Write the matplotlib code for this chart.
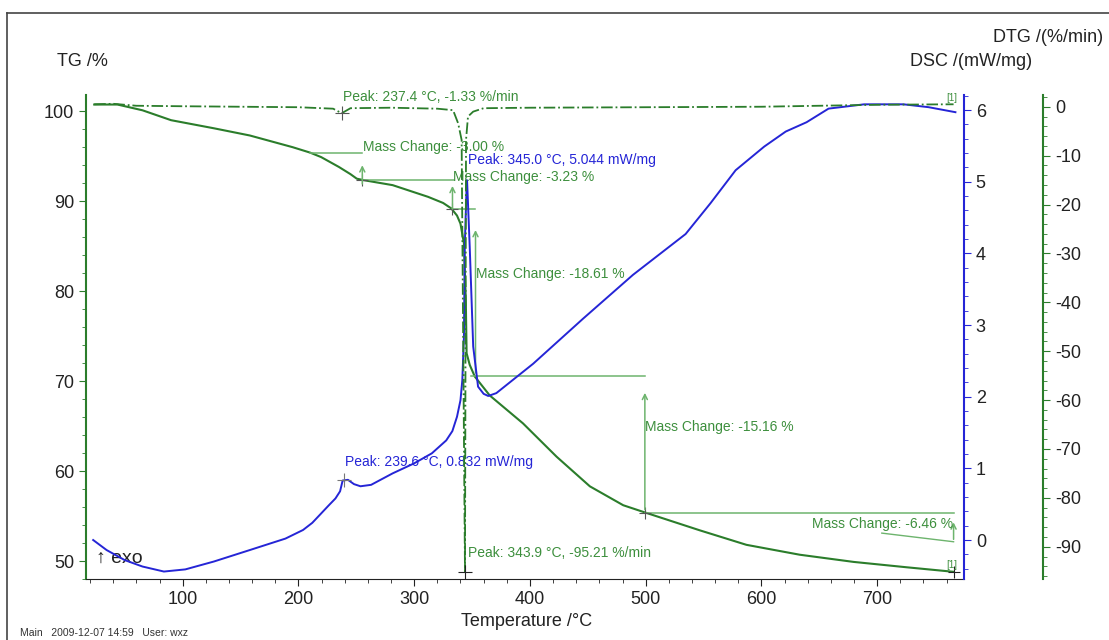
import matplotlib
matplotlib.use("Agg")
from matplotlib import pyplot as plt
from matplotlib.lines import Line2D
from matplotlib.ticker import MultipleLocator

plt.rcParams['font.family'] = ['Liberation Sans', 'DejaVu Sans']
plt.rcParams['axes.unicode_minus'] = False

# TG curve (mass %)
tg_T = [23.6, 43.7, 65.3, 90, 127, 158, 195, 210, 219.6, 235, 245, 250.4, 256.5, 281.4, 312,
        325, 332, 337, 340, 343, 344.6, 345.3, 348, 352.4, 365.3, 394, 423, 451.8, 480.6, 499.3,
        547, 587, 633, 679.6, 725.7, 766]
tg = [100.74, 100.74, 100.1, 99.0, 98.1, 97.3, 96.0, 95.4, 94.9, 93.8, 93.0, 92.5, 92.33, 91.78,
      90.48, 89.8, 89.2, 88.4, 87.5, 85.3, 79.0, 73.1, 71.8, 70.5, 68.4, 65.3, 61.6, 58.3, 56.2,
      55.4, 53.4, 51.8, 50.7, 49.9, 49.3, 48.8]

# DSC curve (mW/mg)
dsc_T = [22.7, 34.3, 49.9, 65.3, 83.8, 102.3, 127, 158, 188.8, 204, 212, 219.6, 226, 232, 236,
         238.2, 242.8, 248, 253.6, 262.8, 281.4, 300, 315.3, 327.7, 333, 337, 340, 341.6, 343,
         343.7, 345.2, 345.7, 348, 351, 355.2, 360, 364, 371, 402.8, 446, 489, 534.5, 556, 577.7,
         602.4, 621, 639, 658, 688.8, 722.8, 744.4, 767.6]
dsc = [0.0, -0.14, -0.28, -0.37, -0.44, -0.41, -0.30, -0.14, 0.02, 0.14, 0.24, 0.37, 0.48, 0.58,
       0.68, 0.83, 0.84, 0.78, 0.75, 0.77, 0.93, 1.07, 1.21, 1.39, 1.52, 1.72, 1.95, 2.23, 2.84,
       4.09, 4.88, 5.02, 4.09, 2.70, 2.14, 2.04, 2.01, 2.05, 2.46, 3.09, 3.70, 4.27, 4.70, 5.16,
       5.49, 5.70, 5.83, 6.02, 6.08, 6.08, 6.04, 5.97]

# DTG curve (%/min)
dtg_T = [23.6, 40, 60, 100, 150, 200, 230, 237.4, 245, 280, 320, 333.6, 338, 341, 343.9, 344.8,
         346.5, 351, 360, 400, 500, 600, 650, 700, 766]
dtg = [0.5, 0.6, 0.2, 0.1, 0.0, -0.1, -0.4, -1.33, -0.3, -0.2, -0.4, -0.7, -3.4, -6.8, -95.21,
       -6.8, -2.0, -1.0, -0.3, -0.2, -0.1, 0.0, 0.2, 0.4, 0.5]

tg_ticks = [50, 60, 70, 80, 90, 100]
dsc_ticks = [0, 1, 2, 3, 4, 5, 6]
dtg_ticks = [0, -10, -20, -30, -40, -50, -60, -70, -80, -90]
x_ticks = [100, 200, 300, 400, 500, 600, 700]

GREEN = '#2b7d2b'
LGREEN = '#6db46d'
TGREEN = '#3d8f3d'
BLUE = '#2525d6'

fig = plt.figure(figsize=(11.09, 6.40), dpi=100)
ax = fig.add_axes([86/1109, 61/640, (964-86)/1109, (579-95)/640])
ax2 = ax.twinx()
ax3 = ax.twinx()

ax.set_xlim(16.5, 775)
ax.set_ylim(48.0, 101.8)
ax2.set_ylim(-0.544, 6.21)
ax3.set_ylim(-96.6, 2.4)

for a in (ax, ax2, ax3):
    a.spines['top'].set_visible(False)
ax.spines['right'].set_visible(False)
ax.spines['left'].set_color(GREEN)
ax.spines['left'].set_linewidth(1.5)
ax.spines['bottom'].set_color('#222222')
for a in (ax2, ax3):
    a.spines['left'].set_visible(False)
    a.spines['bottom'].set_visible(False)
ax2.spines['right'].set_color(BLUE)
ax2.spines['right'].set_linewidth(1.5)
ax3.spines['right'].set_position(('axes', 1.09))
ax3.spines['right'].set_color(GREEN)
ax3.spines['right'].set_linewidth(1.5)

ax.set_xticks(x_ticks)
ax.set_yticks(tg_ticks)
ax2.set_yticks(dsc_ticks)
ax3.set_yticks(dtg_ticks)
ax.xaxis.set_minor_locator(MultipleLocator(20))
ax.yaxis.set_minor_locator(MultipleLocator(2))
ax2.yaxis.set_minor_locator(MultipleLocator(0.2))
ax3.yaxis.set_minor_locator(MultipleLocator(2))

ax.tick_params(axis='x', which='major', direction='out', length=5, labelsize=13, colors='#222222')
ax.tick_params(axis='x', which='minor', direction='out', length=3, color='#222222')
ax.tick_params(axis='y', which='major', direction='out', length=5, labelsize=13, color=GREEN,
               labelcolor='#222222')
ax.tick_params(axis='y', which='minor', direction='out', length=3, color=GREEN)
ax2.tick_params(axis='y', which='major', length=5, labelsize=13, color=BLUE, labelcolor='#222222')
ax2.tick_params(axis='y', which='minor', length=3, color=BLUE)
ax3.tick_params(axis='y', which='major', length=5, labelsize=13, color=GREEN, labelcolor='#222222')
ax3.tick_params(axis='y', which='minor', length=3, color=GREEN)

# curves
ax.plot(tg_T, tg, color=GREEN, lw=1.5)
ax2.plot(dsc_T, dsc, color=BLUE, lw=1.4)
ax3.plot(dtg_T, dtg, color=GREEN, lw=1.3, ls='-.')

fs = 10
arr = dict(arrowstyle='->', color=LGREEN, lw=1.1, mutation_scale=9)

# mass change -3.00 %
ax.plot([210, 255.2], [95.37, 95.37], color=LGREEN, lw=1.1)
ax.plot([255.2, 334], [92.33, 92.33], color=LGREEN, lw=1.1)
ax.annotate('', xy=(255.2, 94.3), xytext=(255.2, 91.6), arrowprops=arr)
ax.plot([255.2], [92.33], marker='+', ms=9, color='#555555', mew=0.8)
ax.text(255.5, 95.2, 'Mass Change: -3.00 %', color=TGREEN, fontsize=fs, va='bottom')

# mass change -3.23 %
ax.plot([333.1, 352.5], [89.08, 89.08], color=LGREEN, lw=1.1)
ax.annotate('', xy=(333.1, 92.0), xytext=(333.1, 88.8), arrowprops=arr)
ax.plot([333.1], [89.08], marker='+', ms=9, color='#555555', mew=0.8)
ax.text(333.5, 92.7, 'Mass Change: -3.23 %', color=TGREEN, fontsize=fs, va='center')

# mass change -18.61 %
ax.plot([349.5, 499.3], [70.59, 70.59], color=LGREEN, lw=1.1)
ax.annotate('', xy=(353, 87.1), xytext=(353, 70.6), arrowprops=arr)
ax.text(353.3, 81.86, 'Mass Change: -18.61 %', color=TGREEN, fontsize=fs, va='center')

# mass change -15.16 %
ax.plot([499.3, 766], [55.37, 55.37], color=LGREEN, lw=1.1)
ax.annotate('', xy=(499.3, 69.0), xytext=(499.3, 55.4), arrowprops=arr)
ax.plot([499.3], [55.37], marker='+', ms=9, color='#555555', mew=0.8)
ax.text(499.6, 64.9, 'Mass Change: -15.16 %', color=TGREEN, fontsize=fs, va='center')

# mass change -6.46 %
ax.plot([704, 766], [53.1, 52.14], color=LGREEN, lw=1.0)
ax.annotate('', xy=(766, 54.6), xytext=(766, 52.1), arrowprops=arr)
ax.plot([766], [48.8], marker='+', ms=9, color='#222222', mew=0.8)
ax.text(765.5, 54.1, 'Mass Change: -6.46 %', color=TGREEN, fontsize=fs, va='center', ha='right')

# peaks
ax3.plot([237.4], [-1.33], marker='+', ms=10, color='#555555', mew=0.8)
ax3.text(238.8, 2.0, 'Peak: 237.4 °C, -1.33 %/min', color=TGREEN, fontsize=fs, va='center')
ax3.plot([343.9], [-95.21], marker='+', ms=10, color='#222222', mew=0.8)
ax3.text(346.2, -91.3, 'Peak: 343.9 °C, -95.21 %/min', color=TGREEN, fontsize=fs, va='center')
ax2.plot([239.6], [0.832], marker='+', ms=10, color='#777777', mew=0.8)
ax2.text(240.6, 1.09, 'Peak: 239.6 °C, 0.832 mW/mg', color=BLUE, fontsize=fs, va='center')
ax2.text(346.3, 5.30, 'Peak: 345.0 °C, 5.044 mW/mg', color=BLUE, fontsize=fs, va='center')

ax3.text(764, 1.8, '[1]', color=TGREEN, fontsize=7, va='center', ha='center')
ax.text(764, 49.6, '[1]', color=TGREEN, fontsize=7, va='center', ha='center')

ax.text(25.2, 50.33, '↑ exo', fontsize=14, color='#222222', va='center')

# axis titles
fig.text(57/1109, 1 - 61/640, 'TG /%', fontsize=13, color='#222222', va='center', ha='left')
fig.text(1103/1109, 1 - 38/640, 'DTG /(%/min)', fontsize=13, color='#222222', va='center', ha='right')
fig.text(1032/1109, 1 - 61/640, 'DSC /(mW/mg)', fontsize=13, color='#222222', va='center', ha='right')
fig.text(527/1109, 1 - 621/640, 'Temperature /°C', fontsize=13, color='#222222', va='center', ha='center')
fig.text(20/1109, 1 - 633/640, 'Main   2009-12-07 14:59   User: wxz', fontsize=7.5, color='#333333',
         va='center', ha='left')

# outer frame
fig.add_artist(Line2D([7/1109, 1], [1 - 13/640, 1 - 13/640], transform=fig.transFigure,
                      color='#444444', lw=1.2))
fig.add_artist(Line2D([7/1109, 7/1109], [0, 1 - 13/640], transform=fig.transFigure,
                      color='#444444', lw=1.2))

fig.savefig('out.png', dpi=100)
